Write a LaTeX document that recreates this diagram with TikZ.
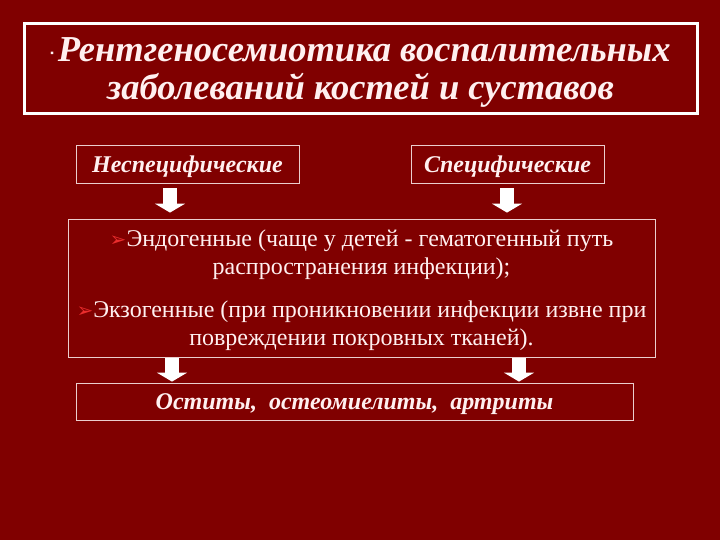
\documentclass[tikz,border=0pt]{standalone}
\usepackage{fontspec}
\setmainfont{Liberation Serif}
\newfontfamily\symfont{DejaVu Sans}
\usetikzlibrary{arrows.meta}

\definecolor{bg}{RGB}{128,0,0}
\definecolor{txt}{RGB}{255,240,240}
\definecolor{frame}{RGB}{235,205,205}
\definecolor{mark}{RGB}{235,45,45}

\newcommand{\pointer}{{\symfont\color{mark}\fontsize{20}{20}\selectfont ➢}}

\begin{document}
\begin{tikzpicture}[x=1pt,y=-1pt,
    box/.style={draw=frame, line width=0.8pt, text=txt, align=center, inner sep=0pt, text depth=0pt},
    fat/.style={white, line width=14pt, -{Triangle[width=30pt,length=9pt]}}]

            \fill[bg] (0,0) rectangle (720,540);

            \node[box, draw=white, line width=3pt, minimum width=673pt, minimum height=90pt,
                  font=\fontsize{36.5}{38}\selectfont\bfseries\itshape] (title) at (360.5,69)
                  {{\fontsize{10}{10}\selectfont\raisebox{5pt}{▪}\hspace{4pt}}Рентгеносемиотика воспалительных\\ заболеваний костей и суставов};

            \node[box, minimum width=223pt, minimum height=38pt,
                  font=\fontsize{24}{26}\selectfont\bfseries\itshape] (nonspec) at (187.5,164) {Неспецифические};
            \node[box, minimum width=193pt, minimum height=38pt,
                  font=\fontsize{24}{26}\selectfont\bfseries\itshape] (spec) at (507.5,164) {Специфические};

            \node[box, minimum width=587pt, minimum height=138pt,
                  font=\fontsize{24}{28}\selectfont] (mid) at (361.5,288)
                  {\pointer Эндогенные (чаще у детей - гематогенный путь\\
                   распространения инфекции);\\[15pt]
                   \pointer Экзогенные (при проникновении инфекции извне при\\
                   повреждении покровных тканей).};

            \node[box, minimum width=557pt, minimum height=37pt,
                  font=\fontsize{24}{26}\selectfont\bfseries\itshape] (result) at (354.5,401.5)
                  {Оститы,\ \ остеомиелиты,\ \ артриты};

            \coordinate (c1) at (170,0);
            \coordinate (c2) at (507,0);
            \coordinate (c3) at (172,0);
            \coordinate (c4) at (519,0);

            \draw[fat, shorten <=5pt, shorten >=6pt] (c1 |- nonspec.south) -- (c1 |- mid.north);
            \draw[fat, shorten <=5pt, shorten >=6pt] (c2 |- spec.south) -- (c2 |- mid.north);
            \draw[fat, shorten <=1pt, shorten >=1pt] (c3 |- mid.south) -- (c3 |- result.north);
            \draw[fat, shorten <=1pt, shorten >=1pt] (c4 |- mid.south) -- (c4 |- result.north);
        \end{tikzpicture}
\end{document}
